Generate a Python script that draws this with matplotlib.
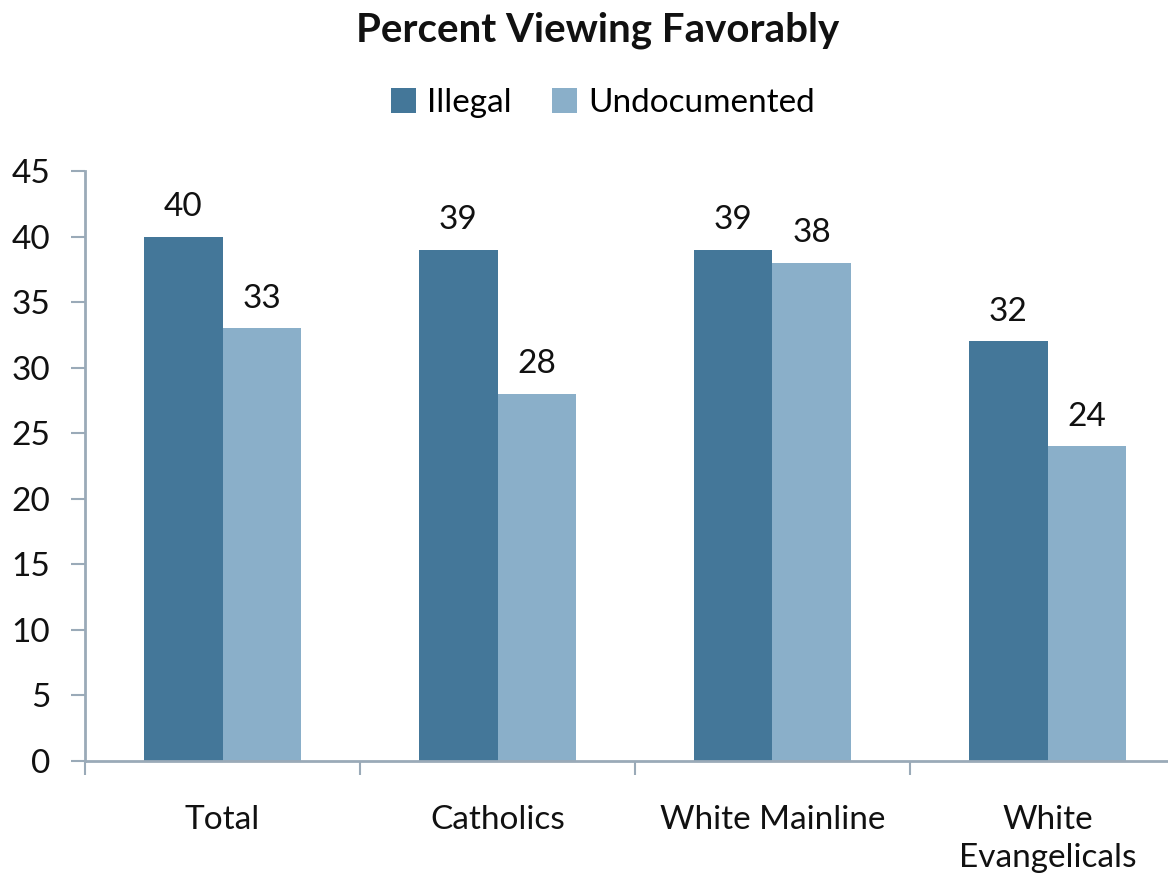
import numpy as np
import matplotlib
matplotlib.use("Agg")
import matplotlib.pyplot as plt

plt.rcParams['font.family'] = ['Lato', 'DejaVu Sans']

categories = ["Total", "Catholics", "White Mainline", "White\nEvangelicals"]
illegal = [40, 39, 39, 32]
undocumented = [33, 28, 38, 24]

c_dark = "#447799"
c_light = "#8AAFC9"
c_axis = "#9AAAB8"

fig = plt.figure(figsize=(11.68, 8.8), dpi=100)
ax = fig.add_axes([85/1168, 119/880, 1100/1168, 590/880])

x = np.arange(len(categories))
w = 0.286
b1 = ax.bar(x - w/2, illegal, w, color=c_dark, label="Illegal")
b2 = ax.bar(x + w/2, undocumented, w, color=c_light, label="Undocumented")

for bars in (b1, b2):
    for r in bars:
        ax.text(r.get_x() + r.get_width()/2, r.get_height() + 1.1, str(int(r.get_height())),
                ha='center', va='bottom', fontsize=24, color='#111111')

ax.set_xlim(-0.5, len(categories) - 0.5)
ax.set_ylim(0, 45)
ax.set_yticks(range(0, 46, 5))
ax.tick_params(axis='y', labelsize=24, length=10, width=1.5, color=c_axis, pad=15, labelcolor='#111111')

ax.set_xticks(np.arange(len(categories) + 1) - 0.5)
ax.set_xticklabels([])
ax.set_xticks(x, minor=True)
ax.set_xticklabels(categories, minor=True, fontsize=24, color='#111111', linespacing=1.3)
ax.tick_params(axis='x', which='minor', length=0, pad=32)
ax.tick_params(axis='x', which='major', length=10, width=1.5, color=c_axis, direction='out')

for s in ['top', 'right']:
    ax.spines[s].set_visible(False)
for s in ['left', 'bottom']:
    ax.spines[s].set_color(c_axis)
    ax.spines[s].set_linewidth(2)

fig.text(598/1168, 1 - 30/880, "Percent Viewing Favorably", ha='center', va='center',
         fontsize=29, fontweight='bold', color='#111111')
fig.legend(handles=[b1, b2], loc='center', bbox_to_anchor=(603/1168, 1 - 103/880), ncol=2,
           frameon=False, fontsize=24, handlelength=0.75, handleheight=0.75, handletextpad=0.35,
           columnspacing=1.2)

fig.savefig("out.png", dpi=100)
